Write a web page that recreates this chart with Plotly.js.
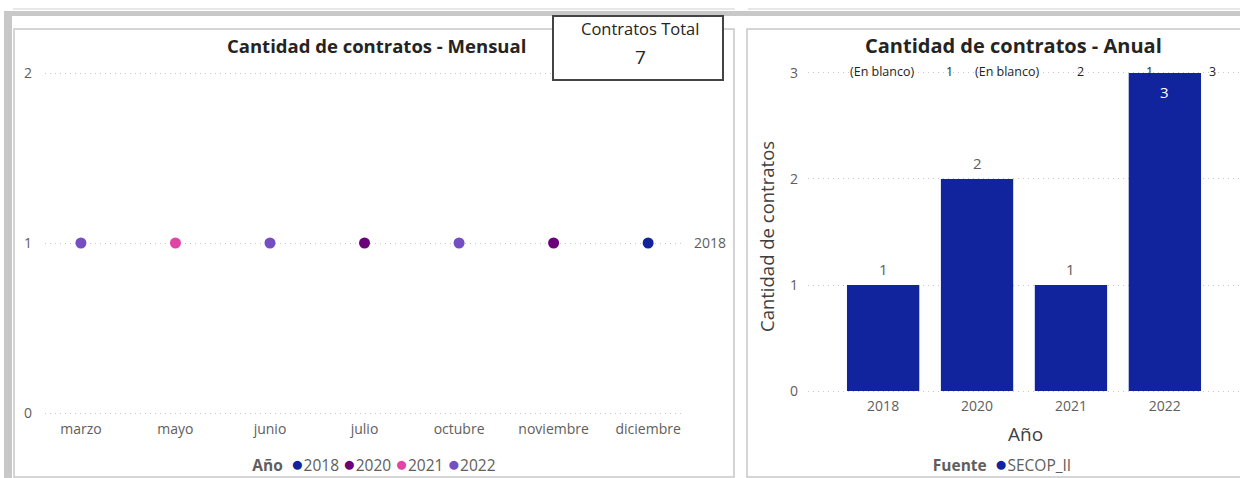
<!DOCTYPE html>
<html>
<head>
<meta charset="utf-8">
<script src="https://cdn.plot.ly/plotly-3.0.1.min.js"></script>
<style>html,body{margin:0;padding:0;background:#fff;}#chart{width:1240px;height:478px;}</style>
</head>
<body>
<div id="chart"></div>
<script>
// ---- Data ----
const meses = ['marzo', 'mayo', 'junio', 'julio', 'octubre', 'noviembre', 'diciembre'];
const anioPorMes = ['2022', '2021', '2022', '2020', '2022', '2020', '2018'];
const contratosPorMes = [1, 1, 1, 1, 1, 1, 1];
const anios = ['2018', '2020', '2021', '2022'];
const contratosPorAnio = [1, 2, 1, 3];
const fuentes = ['SECOP_II'];
const etiquetasSuperiores = ['(En blanco)', '1', '(En blanco)', '2', '1', '3'];
const etiquetaFinSerie = '2018';

// ---- Styles ----
const colorAnio = {'2018': '#12239E', '2020': '#6B007B', '2021': '#E044A7', '2022': '#744EC2'};
const colorFuente = '#12239E';
const FONT = 'Segoe UI, Open Sans, sans-serif';
const W = 1240, H = 478;
const px = x => x / W;
const py = y => 1 - y / H;

const totalContratos = contratosPorAnio.reduce((a, b) => a + b, 0);

// ---- Traces ----
const traces = anios.map(a => {
  const xs = [], ys = [];
  meses.forEach((m, i) => { if (anioPorMes[i] === a) { xs.push(m); ys.push(contratosPorMes[i]); } });
  return {
    type: 'scatter', mode: 'markers', name: a, x: xs, y: ys,
    xaxis: 'x', yaxis: 'y',
    marker: {color: colorAnio[a], size: 11},
    showlegend: false, hoverinfo: 'x+y+name', cliponaxis: false
  };
});
const yMax = Math.max(...contratosPorAnio);
traces.push({
  type: 'bar', name: fuentes[0], x: anios, y: contratosPorAnio,
  xaxis: 'x2', yaxis: 'y2',
  marker: {color: colorFuente},
  cliponaxis: false, showlegend: false
});

// ---- Layout pieces ----
const gridColor = '#C8C8C8';
const tickFont = {family: FONT, size: 14, color: '#605E5C'};

const dot = c => `<span style="color:${c};font-size:21px">●</span>`;
const legendLeft = '<b>Año</b>  ' + anios.map(a => dot(colorAnio[a]) + a).join(' ');
const legendRight = '<b>Fuente</b>  ' + fuentes.map(f => dot(colorFuente) + f).join(' ');

const topLabelX = [-0.01, 0.71, 1.32, 2.10, 2.84, 3.51];

const annotations = [
  {xref: 'paper', yref: 'paper', x: px(376), y: py(45), text: '<b>Cantidad de contratos - Mensual</b>',
   showarrow: false, font: {family: FONT, size: 18.5, color: '#252423'}, xanchor: 'center', yanchor: 'middle'},
  {xref: 'paper', yref: 'paper', x: px(1013), y: py(45), text: '<b>Cantidad de contratos - Anual</b>',
   showarrow: false, font: {family: FONT, size: 20, color: '#252423'}, xanchor: 'center', yanchor: 'middle'},
  {xref: 'paper', yref: 'paper', x: px(374), y: py(463), text: legendLeft, height: 26, width: 290,
   showarrow: false, font: {family: FONT, size: 15.5, color: '#605E5C'}, xanchor: 'center', yanchor: 'middle'},
  {xref: 'paper', yref: 'paper', x: px(1002), y: py(463), text: legendRight, height: 26, width: 180,
   showarrow: false, font: {family: FONT, size: 15.5, color: '#605E5C'}, xanchor: 'center', yanchor: 'middle'},
  {xref: 'x', yref: 'y', x: meses.length - 1, y: 1, xshift: 44, text: etiquetaFinSerie,
   showarrow: false, font: {family: FONT, size: 14, color: '#605E5C'}, xanchor: 'left', yanchor: 'middle'},
  {xref: 'paper', yref: 'paper', x: px(766), y: py(237), text: 'Cantidad de contratos', textangle: -90,
   showarrow: false, font: {family: FONT, size: 18.5, color: '#404040'}, xanchor: 'center', yanchor: 'middle'},
  {xref: 'paper', yref: 'paper', x: px(1025), y: py(434), text: 'Año',
   showarrow: false, font: {family: FONT, size: 19, color: '#404040'}, xanchor: 'center', yanchor: 'middle'},
  {xref: 'paper', yref: 'paper', x: px(640), y: py(28), text: 'Contratos Total',
   showarrow: false, font: {family: FONT, size: 16.5, color: '#252423'}, xanchor: 'center', yanchor: 'middle'},
  {xref: 'paper', yref: 'paper', x: px(640), y: py(57), text: String(totalContratos),
   showarrow: false, font: {family: FONT, size: 19, color: '#252423'}, xanchor: 'center', yanchor: 'middle'}
];
etiquetasSuperiores.forEach((t, i) => {
  annotations.push({xref: 'x2', yref: 'y2', x: topLabelX[i], y: yMax, yshift: 1, text: t,
    showarrow: false, font: {family: FONT, size: 12.5, color: '#252423'}, xanchor: 'center', yanchor: 'middle'});
});
// bar value labels (x given as category index)
anios.forEach((a, i) => {
  const v = contratosPorAnio[i];
  const inside = v === yMax;
  annotations.push({xref: 'x2', yref: 'y2', x: i, y: v, yshift: inside ? -19 : 16, text: String(v),
    showarrow: false, font: {family: FONT, size: 15, color: inside ? '#FFFFFF' : '#605E5C'},
    xanchor: 'center', yanchor: 'middle'});
});

const rectPx = (x0, y0, x1, y1, opts) => Object.assign({type: 'rect', xref: 'paper', yref: 'paper',
  x0: px(x0), x1: px(x1), y0: py(y1), y1: py(y0), layer: 'above'}, opts);
const shapes = [
  rectPx(13, 8.5, 735, 9.5, {fillcolor: '#D0D0D0', line: {width: 0}}),
  rectPx(748, 8.5, 1240, 9.5, {fillcolor: '#D0D0D0', line: {width: 0}}),
  rectPx(4, 11, 1240, 16, {fillcolor: '#C8C8C8', line: {width: 0}}),
  rectPx(4, 11, 12, 478, {fillcolor: '#C8C8C8', line: {width: 0}}),
  rectPx(14, 29, 734, 477, {fillcolor: 'rgba(0,0,0,0)', line: {color: '#C8C8C8', width: 1.5}, layer: 'below'}),
  rectPx(747, 29, 1250, 477, {fillcolor: 'rgba(0,0,0,0)', line: {color: '#C8C8C8', width: 1.5}, layer: 'below'}),
  rectPx(553, 16, 723, 80, {fillcolor: '#FFFFFF', line: {color: '#444444', width: 2}})
];

const layout = {
  width: W, height: H,
  margin: {l: 0, r: 0, t: 0, b: 0},
  paper_bgcolor: '#FFFFFF', plot_bgcolor: 'rgba(0,0,0,0)',
  font: {family: FONT, color: '#605E5C'},
  showlegend: false,
  bargap: 0.23,
  xaxis: {domain: [px(45), px(685)], type: 'category', categoryarray: meses, categoryorder: 'array',
          range: [-0.38, 6.39], showgrid: false, zeroline: false, showline: false, ticks: '',
          tickfont: tickFont, fixedrange: true, automargin: false, ticklabelstandoff: 1},
  yaxis: {domain: [py(418.1), py(67.9)], range: [-0.03, 2.03], tickvals: [0, 1, 2],
          showgrid: true, gridcolor: gridColor, griddash: '1px,4px', gridwidth: 1,
          zeroline: false, showline: false, ticks: '', tickfont: tickFont, fixedrange: true,
          automargin: false, ticklabelstandoff: 12},
  xaxis2: {domain: [px(808), 1], type: 'category', categoryarray: anios, categoryorder: 'array',
           range: [-0.8, 3.8], showgrid: false, zeroline: false, showline: false, ticks: '',
           tickfont: tickFont, fixedrange: true, automargin: false, anchor: 'y2', ticklabelstandoff: 2},
  yaxis2: {domain: [py(394.2), py(69.8)], range: [-0.03, 3.03], tickvals: [0, 1, 2, 3],
           showgrid: true, gridcolor: gridColor, griddash: '1px,4px', gridwidth: 1,
           zeroline: false, showline: false, ticks: '', tickfont: tickFont, fixedrange: true,
           automargin: false, anchor: 'x2', ticklabelstandoff: 9},
  annotations: annotations,
  shapes: shapes
};

Plotly.newPlot('chart', traces, layout, {displayModeBar: false, staticPlot: true});
</script>
</body>
</html>
